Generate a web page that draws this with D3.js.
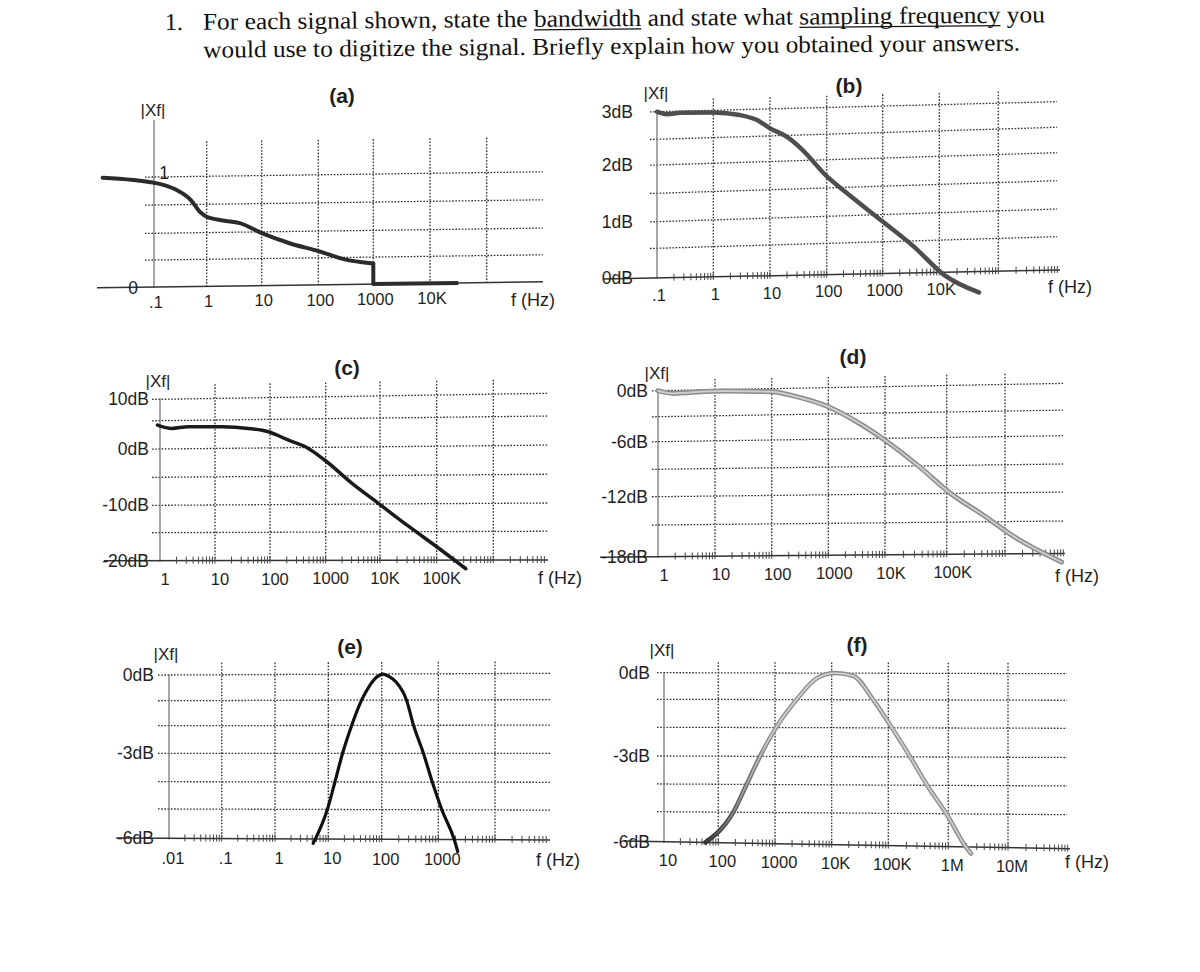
<!DOCTYPE html>
<html><head><meta charset="utf-8">
<script src="https://cdn.jsdelivr.net/npm/d3@7"></script>
<style>
html,body{margin:0;padding:0;background:#fff;}
svg{display:block;}
text{font-family:"Liberation Sans",Arial,sans-serif;fill:#1e1e1e;}
text.serif{font-family:"Liberation Serif","Times New Roman",serif;fill:#111;}
</style></head><body>
<svg id="chart" width="1200" height="972"></svg>
<script>
// ---------------- DATA ----------------
const questionNumber = "1.";
const titleLine1 = ["For each signal shown, state the ", "bandwidth", " and state what ", "sampling frequency", " you"];
const titleLine1Underlined = [1, 3];
const titleLine2 = "would use to digitize the signal. Briefly explain how you obtained your answers.";

const magLabel = "|Xf|";
const freqLabel = "f (Hz)";
const panelNames = ["(a)", "(b)", "(c)", "(d)", "(e)", "(f)"];

// (a) linear magnitude
const aXGrid = [0.1, 1, 10, 100, 1000, 1e4, 1e5];
const aXTicks = [0.1, 1, 10, 100, 1000, 1e4];
const aXLabels = [".1", "1", "10", "100", "1000", "10K"];
const aYGrid = [0, 0.25, 0.5, 0.75, 1];
const aYTicks = [0, 1];
const aYLabels = ["0", "1"];
const aFreq = [0.0106, 0.108, 0.247, 0.5, 0.76, 1.0, 1.97, 4.0, 10.3, 31, 100, 290, 1000];
const aMag  = [1.0, 0.945, 0.89, 0.79, 0.68, 0.64, 0.605, 0.58, 0.485, 0.39, 0.313, 0.235, 0.19];
const aStepFreq = [1000, 1000, 31600];
const aStepMag  = [0.19, 0, 0];

// (b)
const bXGrid = [0.1, 1, 10, 100, 1000, 1e4, 1e5];
const bXTicks = [0.1, 1, 10, 100, 1000, 1e4];
const bXLabels = [".1", "1", "10", "100", "1000", "10K"];
const bYGrid = [0, 0.5, 1, 1.5, 2, 2.5, 3];
const bYTicks = [0, 1, 2, 3];
const bYLabels = ["0dB", "1dB", "2dB", "3dB"];
const bFreq = [0.1, 0.15, 0.26, 1, 2.95, 5.9, 10, 20, 35, 102, 234, 1000, 3550, 12000, 47000];
const bMag  = [3.0, 2.95, 2.97, 2.96, 2.90, 2.80, 2.64, 2.47, 2.24, 1.70, 1.39, 0.87, 0.41, -0.04, -0.32];

// (c)
const cXGrid = [1, 10, 100, 1000, 1e4, 1e5, 1e6];
const cXTicks = [1, 10, 100, 1000, 1e4, 1e5];
const cXLabels = ["1", "10", "100", "1000", "10K", "100K"];
const cYGrid = [-20, -15, -10, -5, 0, 5, 10];
const cYTicks = [-20, -10, 0, 10];
const cYLabels = ["-20dB", "-10dB", "0dB", "10dB"];
const cFreq = [0.9, 1.63, 3.27, 13.2, 40.4, 93, 215, 432, 955, 3055, 9330, 32700, 100000, 327000];
const cMag  = [4.24, 3.62, 3.88, 3.8, 3.46, 2.83, 1.33, 0.13, -2.21, -6.34, -9.88, -14.1, -17.65, -21.5];

// (d)
const dXGrid = [1, 10, 100, 1000, 1e4, 1e5, 1e6];
const dXTicks = [1, 10, 100, 1000, 1e4, 1e5];
const dXLabels = ["1", "10", "100", "1000", "10K", "100K"];
const dYGrid = [-18, -15, -12, -9, -6, -3, 0];
const dYTicks = [-18, -12, -6, 0];
const dYLabels = ["-18dB", "-12dB", "-6dB", "0dB"];
const dFreq = [1, 1.84, 3.6, 14, 100, 275, 1000, 3160, 10000, 36000, 120000, 420000, 1.37e6, 9.3e6];
const dMag  = [0, -0.34, -0.26, -0.17, -0.35, -0.97, -2.18, -3.98, -6.2, -9.08, -12.07, -14.29, -16.34, -18.8];

// (e)
const eXGrid = [0.01, 0.1, 1, 10, 100, 1000, 1e4];
const eXTicks = [0.01, 0.1, 1, 10, 100, 1000];
const eXLabels = [".01", ".1", "1", "10", "100", "1000"];
const eYGrid = [-6, -5, -4, -3, -2, -1, 0];
const eYTicks = [-6, -3, 0];
const eYLabels = ["-6dB", "-3dB", "0dB"];
const eFreq = [5.2, 9.6, 13.3, 18.5, 27.4, 42, 60, 80, 105, 135, 178, 274, 365, 546, 783, 1155, 1910, 2200];
const eMag  = [-6.15, -5, -4, -3, -2, -1, -0.43, -0.12, 0, -0.1, -0.3, -1, -2, -3, -4, -5, -6, -6.4];

// (f)
const fXGrid = [10, 100, 1000, 1e4, 1e5, 1e6, 1e7];
const fXTicks = [10, 100, 1000, 1e4, 1e5, 1e6, 1e7];
const fXLabels = ["10", "100", "1000", "10K", "100K", "1M", "10M"];
const fYGrid = [-6, -5, -4, -3, -2, -1, 0];
const fYTicks = [-6, -3, 0];
const fYLabels = ["-6dB", "-3dB", "0dB"];
const fFreq = [58, 184, 316, 544, 1042, 2400, 5430, 11500, 24000, 54300, 115000, 232000, 443000, 930000, 1.97e6, 2.4e6];
const fMag  = [-6, -5, -4, -3, -2, -1, -0.2, 0, -0.1, -1, -2, -3, -4, -5, -6, -6.2];

// ---------------- LAYOUT ----------------
const svg = d3.select("#chart");
svg.append("rect").attr("width", 1200).attr("height", 972).attr("fill", "#fff");

const defs = svg.append("defs");
const gOut = defs.append("linearGradient").attr("id", "fOuter").attr("gradientUnits", "userSpaceOnUse")
  .attr("x1", 690).attr("x2", 770).attr("y1", 0).attr("y2", 0);
gOut.append("stop").attr("offset", 0).attr("stop-color", "#151515");
gOut.append("stop").attr("offset", 1).attr("stop-color", "#8c8c8c");
const gIn = defs.append("linearGradient").attr("id", "fInner").attr("gradientUnits", "userSpaceOnUse")
  .attr("x1", 700).attr("x2", 780).attr("y1", 0).attr("y2", 0);
gIn.append("stop").attr("offset", 0).attr("stop-color", "#cfcfcf").attr("stop-opacity", 0);
gIn.append("stop").attr("offset", 1).attr("stop-color", "#cfcfcf").attr("stop-opacity", 1);

// Title (photographed page is slightly rotated); drawn word by word
const TITLE_FS = 24;
const tg = svg.append("g").attr("transform", "rotate(-0.5,165,31)");
tg.append("text").attr("class", "serif").attr("x", 165).attr("y", 30)
  .attr("font-size", TITLE_FS).text(questionNumber);

function fitLine(parts, underlined, x, yBase, width) {
  const full = parts.join("");
  const meas = tg.append("text").attr("class", "serif").attr("font-size", TITLE_FS).text(full);
  const node = meas.node();
  const sx = width / node.getComputedTextLength();
  const re = /\S+/g;
  let m;
  const words = [];
  while ((m = re.exec(full)) !== null) {
    words.push({t: m[0], off: m.index > 0 ? node.getSubStringLength(0, m.index) : 0});
  }
  const lines = [];
  let start = 0;
  parts.forEach((p, i) => {
    if (underlined.includes(i)) {
      const x0 = start > 0 ? node.getSubStringLength(0, start) : 0;
      const w = node.getSubStringLength(start, p.length);
      lines.push([x0, w]);
    }
    start += p.length;
  });
  meas.remove();
  words.forEach(wd => {
    tg.append("text").attr("class", "serif").attr("font-size", TITLE_FS)
      .attr("transform", `translate(${x + wd.off * sx},${yBase}) scale(${sx},1)`).text(wd.t);
  });
  lines.forEach(([x0, w]) => {
    tg.append("line").attr("x1", x + x0 * sx).attr("x2", x + (x0 + w) * sx)
      .attr("y1", yBase + 3).attr("y2", yBase + 3)
      .attr("stroke", "#111").attr("stroke-width", 1.3);
  });
}
fitLine(titleLine1, titleLine1Underlined, 203, 30, 842);
fitLine([titleLine2], [], 203, 58, 817);

function drawPanel(P, L) {
  const x = d3.scaleLog().domain(P.xGrid).range(L.xPix);
  const yBase = d3.scaleLinear().domain(P.yGrid).range(L.yPix);
  const tilt = d3.scaleLinear().domain(P.yGrid).range(L.tiltRight);
  const xa = x(P.xGrid[0]);
  const Y = (v, xp) => yBase(v) + tilt(v) * (xp - xa) / (L.xRef - xa);
  const vBottom = P.yGrid[0];
  const vTop = P.yGrid[P.yGrid.length - 1];
  const g = svg.append("g");

  g.selectAll("line.h").data(P.yGrid.slice(1)).join("line")
    .attr("x1", L.gridLeft).attr("x2", L.gridRight)
    .attr("y1", d => Y(d, L.gridLeft)).attr("y2", d => Y(d, L.gridRight))
    .attr("stroke", "#2e2e2e").attr("stroke-width", 1.3).attr("stroke-dasharray", "1.6,1.6");
  g.selectAll("line.v").data(P.xGrid.slice(1)).join("line")
    .attr("x1", d => x(d)).attr("x2", d => x(d))
    .attr("y1", d => L.vTop + tilt(vTop) * (x(d) - xa) / (L.xRef - xa))
    .attr("y2", d => Y(vBottom, x(d)))
    .attr("stroke", "#2e2e2e").attr("stroke-width", 1.3).attr("stroke-dasharray", "1.6,1.6");

  g.append("line").attr("x1", xa).attr("x2", xa).attr("y1", L.yAxisTop).attr("y2", Y(vBottom, xa) + 1)
    .attr("stroke", "#777").attr("stroke-width", 1.3);
  g.append("line").attr("x1", L.axisLeft).attr("x2", L.axisRight)
    .attr("y1", Y(vBottom, L.axisLeft)).attr("y2", Y(vBottom, L.axisRight))
    .attr("stroke", "#333").attr("stroke-width", 1.5);

  if (L.minor) {
    const ticks = [];
    let dec = P.xGrid[0];
    while (x(dec) < L.axisRight) {
      for (let k = 1; k < 10; k++) {
        const f = k * dec;
        if (x(f) < L.axisRight - 1 && x(f) > xa + 1) ticks.push(f);
      }
      dec *= 10;
    }
    g.selectAll("line.t").data(ticks).join("line")
      .attr("x1", d => x(d)).attr("x2", d => x(d))
      .attr("y1", d => Y(vBottom, x(d)) - 4).attr("y2", d => Y(vBottom, x(d)) + 3)
      .attr("stroke", "#444").attr("stroke-width", 1);
  }

  // x tick labels
  g.selectAll("text.xl").data(P.xTicks).join("text")
    .attr("x", d => x(d) + L.xLabelDx)
    .attr("y", d => L.xLabelY + tilt(vBottom) * (x(d) - xa) / (L.xRef - xa)).attr("dy", "0.35em")
    .attr("text-anchor", "middle").attr("font-size", 16.5)
    .text((d, i) => P.xLabels[i]);
  // y tick labels
  g.selectAll("text.yl").data(P.yTicks).join("text")
    .attr("x", (d, i) => Array.isArray(L.yLabelX) ? L.yLabelX[i] : L.yLabelX)
    .attr("y", (d, i) => yBase(d) + (L.yLabelDy ? L.yLabelDy[i] : 0)).attr("dy", "0.35em")
    .attr("text-anchor", L.yLabelAnchor).attr("font-size", 17.5)
    .text((d, i) => P.yLabels[i]);

  g.append("text").attr("x", L.xf[0]).attr("y", L.xf[1]).attr("dy", "0.35em")
    .attr("text-anchor", "middle").attr("font-size", 17).text(magLabel);
  g.append("text").attr("x", L.name[0]).attr("y", L.name[1]).attr("dy", "0.35em")
    .attr("text-anchor", "middle").attr("font-size", 21).attr("font-weight", "bold").text(P.name);
  g.append("text").attr("x", L.fhz[0]).attr("y", L.fhz[1]).attr("dy", "0.35em")
    .attr("text-anchor", "middle").attr("font-size", 18).text(freqLabel);

  const lg = d3.line().x(d => x(d[0])).y(d => Y(d[1], x(d[0]))).curve(d3.curveMonotoneX);
  const pts = d3.zip(P.freq, P.mag);
  L.strokes.forEach(s => {
    g.append("path").attr("d", lg(pts)).attr("fill", "none")
      .attr("stroke", s.c).attr("stroke-width", s.w)
      .attr("stroke-linecap", "round").attr("stroke-linejoin", "round");
  });
  if (P.stepFreq) {
    const sl = d3.line().x(d => x(d[0])).y(d => Y(d[1], x(d[0])));
    L.strokes.forEach(s => {
      g.append("path").attr("d", sl(d3.zip(P.stepFreq, P.stepMag))).attr("fill", "none")
        .attr("stroke", s.c).attr("stroke-width", s.w)
        .attr("stroke-linecap", "butt").attr("stroke-linejoin", "round");
    });
  }
}

drawPanel(
  {name: panelNames[0], xGrid: aXGrid, xTicks: aXTicks, xLabels: aXLabels, yGrid: aYGrid, yTicks: aYTicks,
   yLabels: aYLabels, freq: aFreq, mag: aMag, stepFreq: aStepFreq, stepMag: aStepMag},
  {xPix: [154, 206.7, 261.7, 318.3, 373.3, 430, 486.7], yPix: [287, 260, 233.3, 205, 177],
   tiltRight: [-5.2, -5.2, -5.2, -5.2, -5.2], xRef: 543,
   gridLeft: 145, gridRight: 543, vTop: 142, yAxisTop: 120, axisLeft: 97, axisRight: 543, minor: false,
   xLabelY: 302, xLabelDx: 2, yLabelX: [133, 164], yLabelDy: [1, -4], yLabelAnchor: "middle",
   xf: [153, 110], name: [342, 96], fhz: [533, 300], strokes: [{c: "#2b2b2b", w: 4}]});

drawPanel(
  {name: panelNames[1], xGrid: bXGrid, xTicks: bXTicks, xLabels: bXLabels, yGrid: bYGrid, yTicks: bYTicks,
   yLabels: bYLabels, freq: bFreq, mag: bMag},
  {xPix: [657, 713.3, 770, 826.7, 882.7, 939.3, 998.3], yPix: [278, 248.3, 221.7, 193.3, 165, 139.3, 111.7],
   tiltRight: [-8, -11.6, -12.7, -12.6, -12.3, -12, -10], xRef: 1057,
   gridLeft: 650, gridRight: 1057, vTop: 100, yAxisTop: 110, axisLeft: 603, axisRight: 1060, minor: true,
   xLabelY: 295, xLabelDx: 2, yLabelX: 633, yLabelAnchor: "end",
   xf: [656, 93], name: [849, 86], fhz: [1070, 287], strokes: [{c: "#4e4e4e", w: 4.5}]});

drawPanel(
  {name: panelNames[2], xGrid: cXGrid, xTicks: cXTicks, xLabels: cXLabels, yGrid: cYGrid, yTicks: cYTicks,
   yLabels: cYLabels, freq: cFreq, mag: cMag},
  {xPix: [160, 215, 270, 325.7, 380, 436.7, 493.3], yPix: [560.7, 532.7, 505.3, 477.3, 449, 420.7, 399.3],
   tiltRight: [-0.7, -1.5, -2.3, -3.1, -3.9, -4.7, -6], xRef: 548,
   gridLeft: 152, gridRight: 548, vTop: 385, yAxisTop: 398, axisLeft: 104, axisRight: 548, minor: true,
   xLabelY: 579, xLabelDx: 5, yLabelX: 149, yLabelAnchor: "end",
   xf: [158, 381], name: [347, 368], fhz: [560, 578], strokes: [{c: "#1a1a1a", w: 3.5}]});

drawPanel(
  {name: panelNames[3], xGrid: dXGrid, xTicks: dXTicks, xLabels: dXLabels, yGrid: dYGrid, yTicks: dYTicks,
   yLabels: dYLabels, freq: dFreq, mag: dMag},
  {xPix: [658, 715, 771.7, 828.3, 885, 946.7, 1005], yPix: [556.7, 525, 496.7, 469.3, 441.7, 416.7, 390.7],
   tiltRight: [-3.3, -4, -4.6, -5.3, -6, -6.6, -7.3], xRef: 1063,
   gridLeft: 652, gridRight: 1063, vTop: 380, yAxisTop: 390, axisLeft: 600, axisRight: 1065, minor: true,
   xLabelY: 575, xLabelDx: 6, yLabelX: 648, yLabelAnchor: "end",
   xf: [657, 373], name: [853, 357], fhz: [1077, 576],
   strokes: [{c: "#8a8a8a", w: 5}, {c: "#cdcdcd", w: 2}]});

drawPanel(
  {name: panelNames[4], xGrid: eXGrid, xTicks: eXTicks, xLabels: eXLabels, yGrid: eYGrid, yTicks: eYTicks,
   yLabels: eYLabels, freq: eFreq, mag: eMag},
  {xPix: [169, 221.7, 275, 328.3, 381.7, 438.3, 495], yPix: [838.3, 809, 781.7, 753.3, 725.7, 700.7, 675],
   tiltRight: [1.7, 1.1, 0.6, 0, -0.6, -1.1, -1.7], xRef: 550,
   gridLeft: 158, gridRight: 550, vTop: 663, yAxisTop: 675, axisLeft: 116, axisRight: 550, minor: true,
   xLabelY: 858, xLabelDx: 4, yLabelX: 154, yLabelAnchor: "end",
   xf: [166, 654], name: [350, 647], fhz: [558, 860], strokes: [{c: "#111", w: 3.2}]});

drawPanel(
  {name: panelNames[5], xGrid: fXGrid, xTicks: fXTicks, xLabels: fXLabels, yGrid: fYGrid, yTicks: fYTicks,
   yLabels: fYLabels, freq: fFreq, mag: fMag},
  {xPix: [664, 718.3, 775, 831.7, 888.3, 948.3, 1008], yPix: [841.7, 811.7, 784, 756, 727.3, 699.3, 672.7],
   tiltRight: [7, 3, 2, 1.5, 1, 1, 1], xRef: 1070,
   gridLeft: 657, gridRight: 1067, vTop: 662, yAxisTop: 673, axisLeft: 624, axisRight: 1070, minor: true,
   xLabelY: 860, xLabelDx: 4, yLabelX: 650, yLabelAnchor: "end",
   xf: [662, 650], name: [857, 645], fhz: [1087, 862],
   strokes: [{c: "url(#fOuter)", w: 4.5}, {c: "url(#fInner)", w: 1.8}]});
</script>
</body></html>
